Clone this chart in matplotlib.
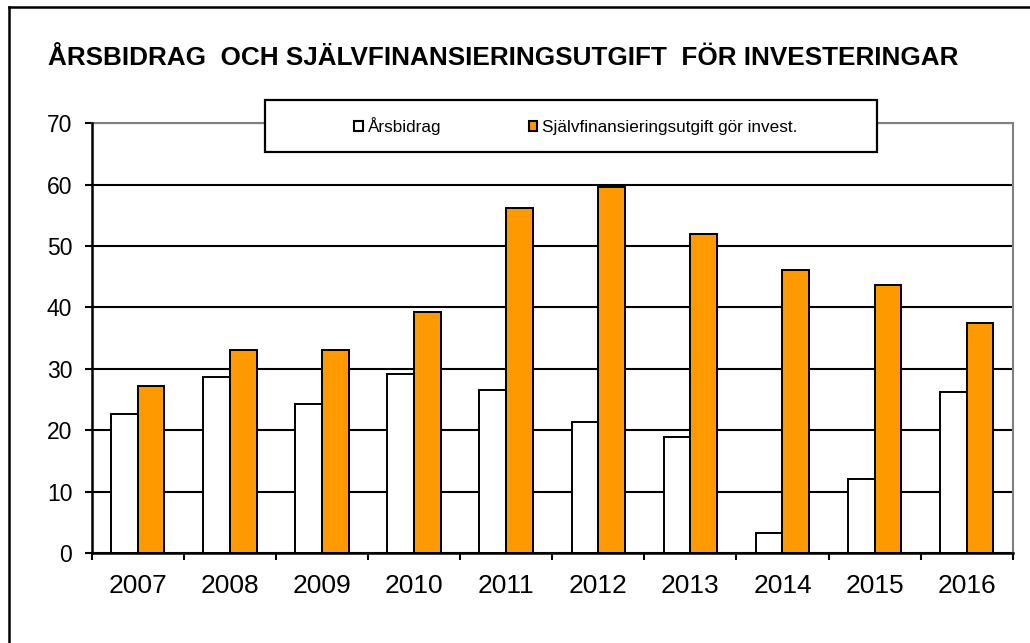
import matplotlib
matplotlib.use("Agg")
import matplotlib.pyplot as plt
from matplotlib.patches import Rectangle
from matplotlib.lines import Line2D
import numpy as np

plt.rcParams['font.family'] = ['Liberation Sans', 'DejaVu Sans']

years = ['2007', '2008', '2009', '2010', '2011', '2012', '2013', '2014', '2015', '2016']
arsbidrag = [22.6, 28.7, 24.3, 29.1, 26.5, 21.4, 18.9, 3.3, 12.1, 26.2]
sjalvfin = [27.2, 33.1, 33.1, 39.3, 56.2, 59.6, 51.9, 46.1, 43.6, 37.5]
series_names = ['Årsbidrag', 'Självfinansieringsutgift gör invest.']
title = 'ÅRSBIDRAG  OCH SJÄLVFINANSIERINGSUTGIFT  FÖR INVESTERINGAR'
yticks = [0, 10, 20, 30, 40, 50, 60, 70]

W, H = 1030, 643
fig = plt.figure(figsize=(W / 100, H / 100), dpi=100)
fig.patch.set_facecolor('white')

ax = fig.add_axes([91.7 / W, 1 - 553 / H, (1012.7 - 91.7) / W, (553 - 123.3) / H])

x = np.arange(len(years))
bw = 0.29
ax.bar(x - bw / 2, arsbidrag, bw, color='white', edgecolor='black', linewidth=1.4, zorder=3)
ax.bar(x + bw / 2, sjalvfin, bw, color='#FF9900', edgecolor='black', linewidth=1.4, zorder=3)

ax.set_xlim(-0.5, len(years) - 0.5)
ax.set_ylim(0, 70)
ax.set_yticks(yticks)
ax.set_yticklabels([str(v) for v in yticks], fontsize=16.5)
ax.yaxis.grid(True, color='black', linewidth=1.5, zorder=1)
ax.set_axisbelow(True)

ax.set_xticks(np.arange(-0.5, len(years), 1.0))
ax.set_xticklabels([])
ax.set_xticks(x, minor=True)
ax.set_xticklabels(years, minor=True, fontsize=19)
ax.tick_params(axis='x', which='major', length=5, width=1.5, direction='out', color='black')
ax.tick_params(axis='x', which='minor', length=0, pad=15)
ax.tick_params(axis='y', length=5, width=1.5, direction='out', pad=9)

for s in ['left', 'bottom']:
    ax.spines[s].set_color('black')
    ax.spines[s].set_linewidth(1.8)
    ax.spines[s].set_zorder(4)
for s in ['top', 'right']:
    ax.spines[s].set_color('#808080')
    ax.spines[s].set_linewidth(1.5)

# title
fig.text(48 / W, 1 - 65 / H, title, fontsize=18.8, fontweight='bold', ha='left', va='baseline')

# legend box
fig.patches.append(Rectangle((265 / W, 1 - 152 / H), (877 - 265) / W, (152 - 100) / H,
                             transform=fig.transFigure, facecolor='white', edgecolor='black',
                             linewidth=1.6, zorder=5))
handles = [Rectangle((0, 0), 1, 1, facecolor='white', edgecolor='black', linewidth=1.5),
           Rectangle((0, 0), 1, 1, facecolor='#FF9900', edgecolor='black', linewidth=1.5)]
leg = fig.legend(handles, series_names, ncol=2, frameon=False, fontsize=12.3,
                 loc='center', bbox_to_anchor=(576 / W, 1 - 126 / H),
                 handlelength=0.5, handleheight=0.5, handletextpad=0.3, columnspacing=5.1)
leg.set_zorder(6)

# outer frame (left and top edges visible)
fig.add_artist(Line2D([9 / W, 9 / W], [0, 1 - 7 / H], transform=fig.transFigure, color='black', linewidth=1.8))
fig.add_artist(Line2D([9 / W, 1], [1 - 7 / H, 1 - 7 / H], transform=fig.transFigure, color='black', linewidth=1.8))

fig.savefig('out.png', dpi=100, facecolor='white')
